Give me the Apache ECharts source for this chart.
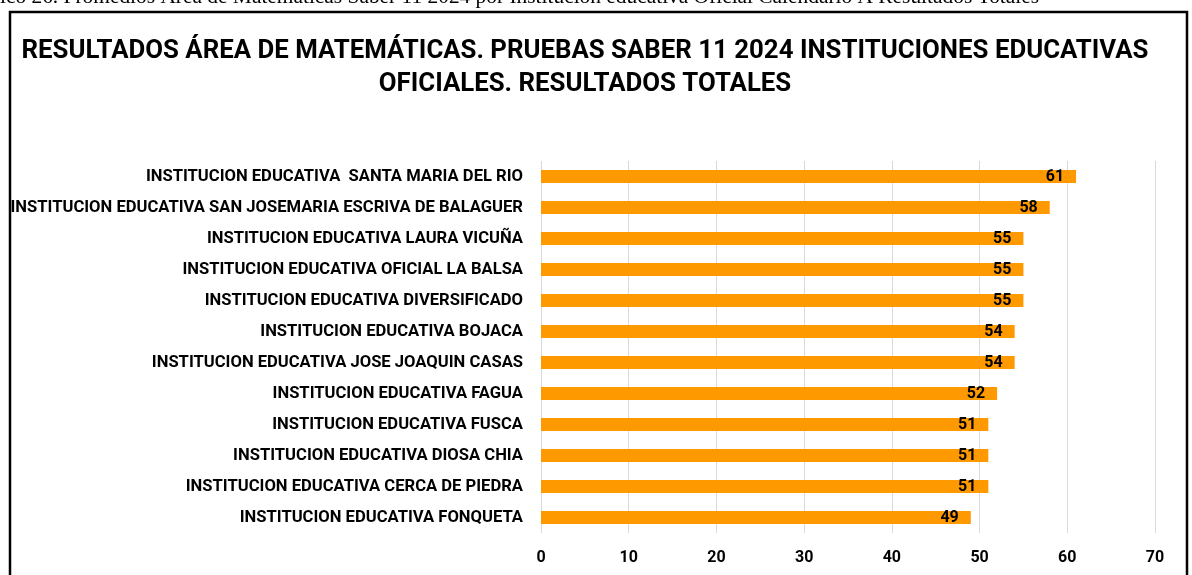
<!DOCTYPE html>
<html>
<head>
<meta charset="utf-8">
<script src="https://cdn.jsdelivr.net/npm/echarts@6/dist/echarts.min.js"></script>
<style>
html,body{margin:0;padding:0;background:#fff;}
#chart{width:1192px;height:575px;}
</style>
</head>
<body>
<div id="chart"></div>
<script>
var categories = [
	'INSTITUCION EDUCATIVA  SANTA MARIA DEL RIO',
	'INSTITUCION EDUCATIVA SAN JOSEMARIA ESCRIVA DE BALAGUER',
	'INSTITUCION EDUCATIVA LAURA VICUÑA',
	'INSTITUCION EDUCATIVA OFICIAL LA BALSA',
	'INSTITUCION EDUCATIVA DIVERSIFICADO',
	'INSTITUCION EDUCATIVA BOJACA',
	'INSTITUCION EDUCATIVA JOSE JOAQUIN CASAS',
	'INSTITUCION EDUCATIVA FAGUA',
	'INSTITUCION EDUCATIVA FUSCA',
	'INSTITUCION EDUCATIVA DIOSA CHIA',
	'INSTITUCION EDUCATIVA CERCA DE PIEDRA',
	'INSTITUCION EDUCATIVA FONQUETA'
];
var promedios = [61, 58, 55, 55, 55, 54, 54, 52, 51, 51, 51, 49];
var xTicks = [0, 70, 10];   // min, max, interval

var titulo = 'RESULTADOS ÁREA DE MATEMÁTICAS. PRUEBAS SABER 11 2024 INSTITUCIONES EDUCATIVAS\nOFICIALES. RESULTADOS TOTALES';
var leyenda = 'ico 26. Promedios Área de Matemáticas Saber 11 2024 por Institución educativa Oficial Calendario A Resultados Totales';

var fuente = '"Roboto", sans-serif';

var myChart = echarts.init(document.getElementById('chart'));
var option = {
	backgroundColor: '#fff',
	animation: false,
	title: {
		text: titulo,
		left: 580,
		textAlign: 'center',
		top: 30,
		textStyle: {
			fontFamily: fuente,
			fontWeight: 'bold',
			fontSize: 25.8,
			lineHeight: 33,
			color: '#000'
		}
	},
	graphic: [
		{
			type: 'text',
			left: 0,
			top: -13,
			style: {
				text: leyenda,
				font: '21.4px "Liberation Serif", serif',
				fill: '#000'
			}
		},
		{
			type: 'rect',
			shape: { x: 10, y: 12, width: 1177, height: 600 },
			style: { fill: 'none', stroke: '#000', lineWidth: 2.5 }
		}
	],
	grid: {
		left: 541,
		right: 37,
		top: 161,
		bottom: 42,
		containLabel: false
	},
	xAxis: {
		type: 'value',
		min: xTicks[0],
		max: xTicks[1],
		interval: xTicks[2],
		axisLine: { show: false },
		axisTick: { show: false },
		splitLine: { lineStyle: { color: '#d9d9d9', width: 1 } },
		axisLabel: {
			margin: 17,
			color: '#000',
			fontFamily: fuente,
			fontWeight: 'bold',
			fontSize: 16
		}
	},
	yAxis: {
		type: 'category',
		inverse: true,
		data: categories,
		axisLine: { show: false },
		axisTick: { show: false },
		axisLabel: {
			margin: 18,
			color: '#000',
			fontFamily: fuente,
			fontWeight: 'bold',
			fontSize: 16.6
		}
	},
	series: [{
		type: 'bar',
		data: promedios,
		barWidth: 13,
		itemStyle: { color: '#ff9900' },
		label: {
			show: true,
			position: 'insideRight',
			distance: 12,
			color: '#000',
			fontFamily: fuente,
			fontWeight: 'bold',
			fontSize: 16
		}
	}]
};
myChart.setOption(option);
</script>
</body>
</html>
